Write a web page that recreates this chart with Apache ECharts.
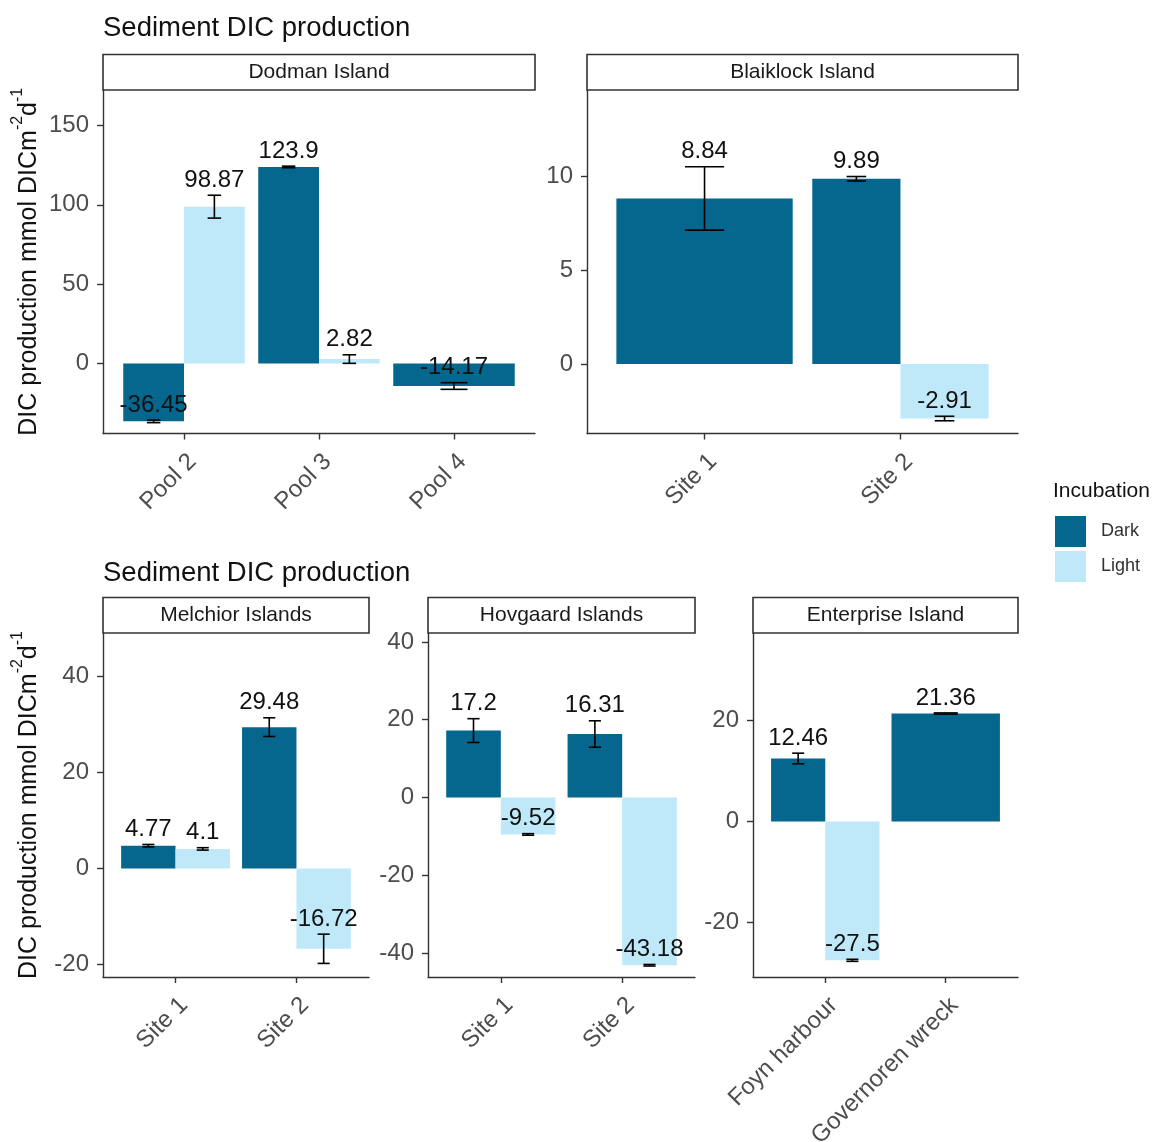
<!DOCTYPE html>
<html>
<head>
<meta charset="utf-8">
<script src="https://cdn.jsdelivr.net/npm/echarts@6/dist/echarts.min.js"></script>
<style>
  html, body { margin: 0; padding: 0; background: #ffffff; }
  #chart { width: 1161px; height: 1142px; }
</style>
</head>
<body>
<div id="chart"></div>
<script>
// ---------------- DATA ----------------
const chartTitle = 'Sediment DIC production';
const groups = ['Dark', 'Light'];

const dodmanCats = ['Pool 2', 'Pool 3', 'Pool 4'];
const dodmanDark = [-36.45, 123.9, -14.17];
const dodmanDarkSE = [0.8, 0.5, 2.1];
const dodmanLight = [98.87, 2.82, null];
const dodmanLightSE = [7.2, 2.7, null];
const dodmanTicks = [0, 50, 100, 150];

const blaiklockCats = ['Site 1', 'Site 2'];
const blaiklockDark = [8.84, 9.89];
const blaiklockDarkSE = [1.69, 0.12];
const blaiklockLight = [null, -2.91];
const blaiklockLightSE = [null, 0.12];
const blaiklockTicks = [0, 5, 10];

const melchiorCats = ['Site 1', 'Site 2'];
const melchiorDark = [4.77, 29.48];
const melchiorDarkSE = [0.25, 1.95];
const melchiorLight = [4.1, -16.72];
const melchiorLightSE = [0.25, 3.05];
const melchiorTicks = [-20, 0, 20, 40];

const hovgaardCats = ['Site 1', 'Site 2'];
const hovgaardDark = [17.2, 16.31];
const hovgaardDarkSE = [3.06, 3.4];
const hovgaardLight = [-9.52, -43.18];
const hovgaardLightSE = [0.2, 0.2];
const hovgaardTicks = [-40, -20, 0, 20, 40];

const enterpriseCats = ['Foyn harbour', 'Governoren wreck'];
const enterpriseDark = [12.46, 21.36];
const enterpriseDarkSE = [1.05, 0.12];
const enterpriseLight = [-27.5, null];
const enterpriseLightSE = [0.2, null];
const enterpriseTicks = [-20, 0, 20];

// ---------------- LAYOUT / STYLE ----------------
const FONT = '"Liberation Sans", Arial, sans-serif';
const DARK = '#05678D';
const LIGHT = '#BFE9F8';
const AXIS = '#333333';

const panels = [
  { name: 'Dodman Island', cats: dodmanCats, dark: dodmanDark, darkSE: dodmanDarkSE, light: dodmanLight, lightSE: dodmanLightSE, ticks: dodmanTicks,
    left: 103, top: 90, width: 432, height: 343.5, min: -44.1, max: 172.4, yTitle: true },
  { name: 'Blaiklock Island', cats: blaiklockCats, dark: blaiklockDark, darkSE: blaiklockDarkSE, light: blaiklockLight, lightSE: blaiklockLightSE, ticks: blaiklockTicks,
    left: 587, top: 90, width: 431, height: 343.5, min: -3.71, max: 14.63, yTitle: false },
  { name: 'Melchior Islands', cats: melchiorCats, dark: melchiorDark, darkSE: melchiorDarkSE, light: melchiorLight, lightSE: melchiorLightSE, ticks: melchiorTicks,
    left: 103, top: 633, width: 266, height: 344, min: -22.6, max: 49.1, yTitle: true },
  { name: 'Hovgaard Islands', cats: hovgaardCats, dark: hovgaardDark, darkSE: hovgaardDarkSE, light: hovgaardLight, lightSE: hovgaardLightSE, ticks: hovgaardTicks,
    left: 428, top: 633, width: 267, height: 344, min: -46.2, max: 42.3, yTitle: false },
  { name: 'Enterprise Island', cats: enterpriseCats, dark: enterpriseDark, darkSE: enterpriseDarkSE, light: enterpriseLight, lightSE: enterpriseLightSE, ticks: enterpriseTicks,
    left: 753, top: 633, width: 265, height: 344, min: -30.8, max: 37.3, yTitle: false }
];
const STRIP_H = 35.5;

// ggplot-like dodge: two bars share 0.9 width; a lone bar takes the full 0.9
function dodge(p) {
  const darkBars = [], lightBars = [], errs = [];
  p.cats.forEach((c, i) => {
    const hasD = p.dark[i] != null, hasL = p.light[i] != null;
    const both = hasD && hasL;
    const xc = i + 1;
    if (hasD) {
      const x = both ? xc - 0.225 : xc;
      darkBars.push([x, p.dark[i], both ? 0.45 : 0.9]);
      errs.push([x, p.dark[i], p.darkSE[i], both ? 0.1 : 0.2]);
    }
    if (hasL) {
      const x = both ? xc + 0.225 : xc;
      lightBars.push([x, p.light[i], both ? 0.45 : 0.9]);
      errs.push([x, p.light[i], p.lightSE[i], both ? 0.1 : 0.2]);
    }
  });
  return { darkBars, lightBars, errs };
}

function renderBar(params, api) {
  const x = api.value(0), y = api.value(1), w = api.value(2);
  const a = api.coord([x - w / 2, 0]);
  const b = api.coord([x + w / 2, y]);
  return {
    type: 'rect',
    shape: { x: a[0], y: Math.min(a[1], b[1]), width: b[0] - a[0], height: Math.abs(b[1] - a[1]) },
    style: { fill: api.visual('color') }
  };
}

function renderErr(params, api) {
  const x = api.value(0), m = api.value(1), se = api.value(2), cw = api.value(3);
  const top = api.coord([x, m + se]);
  const bot = api.coord([x, m - se]);
  const l = api.coord([x - cw / 2, m])[0];
  const r = api.coord([x + cw / 2, m])[0];
  const ls = { stroke: '#000', lineWidth: 1.6 };
  return {
    type: 'group',
    children: [
      { type: 'line', shape: { x1: top[0], y1: top[1], x2: bot[0], y2: bot[1] }, style: ls },
      { type: 'line', shape: { x1: l, y1: top[1], x2: r, y2: top[1] }, style: ls },
      { type: 'line', shape: { x1: l, y1: bot[1], x2: r, y2: bot[1] }, style: ls },
      { type: 'text', x: top[0], y: top[1] - 3,
        style: { text: String(m), align: 'center', verticalAlign: 'bottom', fontSize: 24, fontFamily: FONT, fill: '#111' } }
    ]
  };
}

const grids = [], xAxes = [], yAxes = [], series = [], graphics = [];

panels.forEach((p, i) => {
  grids.push({ left: p.left, top: p.top, width: p.width, height: p.height, containLabel: false, outerBoundsMode: 'none' });
  const idx = p.cats.map((c, k) => k + 1);
  xAxes.push({
    type: 'value', gridIndex: i, min: 0.4, max: p.cats.length + 0.6,
    splitLine: { show: false },
    axisLine: { show: true, onZero: false, lineStyle: { color: AXIS, width: 1.4 } },
    axisTick: { show: true, customValues: idx, length: 6, lineStyle: { color: AXIS, width: 1.4 } },
    axisLabel: {
      customValues: idx, formatter: (v) => p.cats[Math.round(v) - 1],
      rotate: 45, align: 'right', verticalAlign: 'top', margin: 16,
      fontSize: 24, color: '#4D4D4D', fontFamily: FONT
    }
  });
  const y = {
    type: 'value', gridIndex: i, min: p.min, max: p.max,
    splitLine: { show: false },
    axisLine: { show: true, onZero: false, lineStyle: { color: AXIS, width: 1.4 } },
    axisTick: { show: true, customValues: p.ticks, length: 6, lineStyle: { color: AXIS, width: 1.4 } },
    axisLabel: { customValues: p.ticks, margin: 14, fontSize: 24, color: '#4D4D4D', fontFamily: FONT }
  };
  if (p.yTitle) {
    y.name = '{m|DIC production mmol DICm}{s|-2}{m|d}{s|-1}';
    y.nameLocation = 'middle';
    y.nameRotate = 90;
    y.nameGap = 61;
    y.nameTextStyle = {
      rich: {
        m: { fontSize: 25, lineHeight: 32, verticalAlign: 'bottom', fontFamily: FONT, color: '#111' },
        s: { fontSize: 16, lineHeight: 16, verticalAlign: 'top', fontFamily: FONT, color: '#111' }
      }
    };
  }
  yAxes.push(y);

  const d = dodge(p);
  series.push({
    type: 'custom', name: 'Dark', xAxisIndex: i, yAxisIndex: i, renderItem: renderBar,
    itemStyle: { color: DARK }, encode: { x: 0, y: 1 }, data: d.darkBars, z: 2
  });
  series.push({
    type: 'custom', name: 'Light', xAxisIndex: i, yAxisIndex: i, renderItem: renderBar,
    itemStyle: { color: LIGHT }, encode: { x: 0, y: 1 }, data: d.lightBars, z: 2
  });
  series.push({
    type: 'custom', name: 'errors', xAxisIndex: i, yAxisIndex: i, renderItem: renderErr,
    itemStyle: { color: '#000' }, encode: { x: 0, y: 1 }, data: d.errs, z: 5
  });

  graphics.push({
    type: 'rect', z: 10,
    shape: { x: p.left, y: p.top - STRIP_H, width: p.width, height: STRIP_H },
    style: { fill: '#ffffff', stroke: AXIS, lineWidth: 1.6 }
  });
  graphics.push({
    type: 'text', z: 11, x: p.left + p.width / 2, y: p.top - STRIP_H / 2,
    style: { text: p.name, align: 'center', verticalAlign: 'middle', fontSize: 21, fontFamily: FONT, fill: '#1A1A1A' }
  });
});

const option = {
  animation: false,
  backgroundColor: '#ffffff',
  title: [
    { text: chartTitle, left: 103, top: 14, padding: 0, textStyle: { fontSize: 27.5, fontWeight: 'normal', color: '#111', fontFamily: FONT } },
    { text: chartTitle, left: 103, top: 559, padding: 0, textStyle: { fontSize: 27.5, fontWeight: 'normal', color: '#111', fontFamily: FONT } },
    { text: 'Incubation', left: 1053, top: 481, padding: 0, textStyle: { fontSize: 21, fontWeight: 'normal', color: '#111', fontFamily: FONT } }
  ],
  legend: {
    data: groups, orient: 'vertical', left: 1055, top: 516, padding: 0,
    itemWidth: 31, itemHeight: 31, itemGap: 4, icon: 'rect', selectedMode: false,
    formatter: '{a|{name}}',
    textStyle: { fontSize: 18, color: '#333', fontFamily: FONT, rich: { a: { fontSize: 18, color: '#333', fontFamily: FONT, padding: [0, 0, 0, 10] } } }
  },
  grid: grids,
  xAxis: xAxes,
  yAxis: yAxes,
  series: series,
  graphic: graphics
};

const chart = echarts.init(document.getElementById('chart'), null, { renderer: 'canvas' });
chart.setOption(option);
</script>
</body>
</html>
